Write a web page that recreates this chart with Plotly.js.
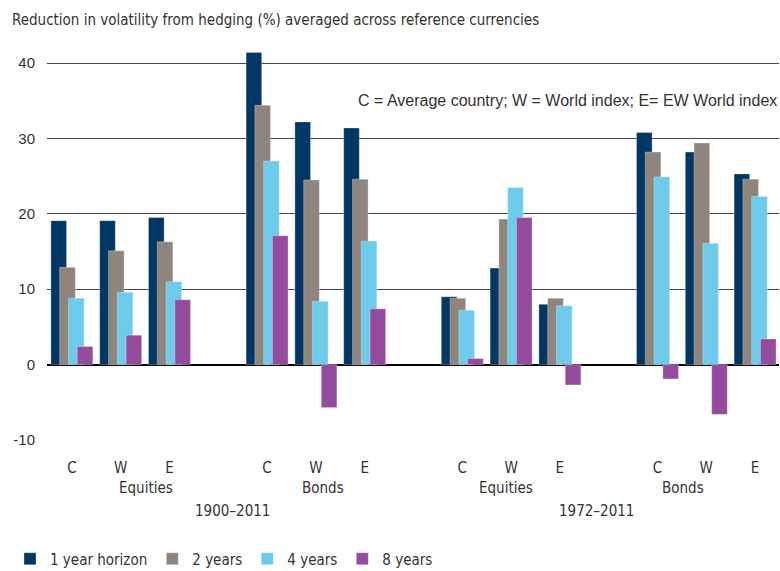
<!DOCTYPE html>
<html>
<head>
<meta charset="utf-8">
<script src="https://cdn.plot.ly/plotly-3.0.1.min.js"></script>
<style>html,body{margin:0;padding:0;background:#fff;}#chart{width:780px;height:571px;}</style>
</head>
<body>
<div id="chart"></div>
<script>
// Data
var categories = ['C','W','E','C','W','E','C','W','E','C','W','E'];
var assetClasses = ['Equities','Bonds','Equities','Bonds'];
var periods = ['1900–2011','1972–2011'];
var seriesNames = ['1 year horizon','2 years','4 years','8 years'];
var h1 = [19.1,19.1,19.5, 41.4,32.2,31.4, 9.0,12.8,8.0, 30.8,28.2,25.3];
var h2 = [12.9,15.1,16.3, 34.4,24.5,24.6, 8.8,19.3,8.8, 28.2,29.4,24.6];
var h4 = [8.8,9.6,11.0, 27.0,8.4,16.4, 7.2,23.5,7.8, 24.9,16.1,22.3];
var h8 = [2.4,3.9,8.6, 17.1,-5.7,7.4, 0.8,19.5,-2.7, -1.9,-6.6,3.4];
var yTicks = [-10,0,10,20,30,40];
var yTickText = ['-10','0','10','20','30','40'];

var colors = ['#003764','#8f857d','#6dcbeb','#944b9d'];
var series = [h1,h2,h4,h8];

// x positions: 3 groups per block, one empty slot between blocks
var xpos = categories.map(function(c,i){ return Math.floor(i/3)*4 + (i%3); });

var barW = 0.32, step = 0.18, start = -0.43;
var traces = series.map(function(vals,k){
  return {
    type:'bar', x:xpos, y:vals, name:seriesNames[k],
    width:barW, offset:start + k*step,
    marker:{color:colors[k], line:{color:'rgba(255,255,255,0.5)', width:0.6}},
    hoverinfo:'skip'
  };
});

var narrow = '"Liberation Sans Narrow", "DejaVu Sans Condensed", Arial, sans-serif';
var regular = 'Arial, "Liberation Sans", sans-serif';

var annotations = [];
// asset class labels
var assetX = [1.52, 5.14, 8.89, 12.52];
assetClasses.forEach(function(a,i){
  annotations.push({text:a, x:assetX[i], xref:'x', y:-0.1225, yref:'paper', showarrow:false,
    xanchor:'center', yanchor:'middle', font:{family:narrow, size:15, color:'#333'}});
});
var periodX = [3.29, 10.75];
periods.forEach(function(p,i){
  annotations.push({text:p, x:periodX[i], xref:'x', y:-0.181, yref:'paper', showarrow:false,
    xanchor:'center', yanchor:'middle', font:{family:narrow, size:15, color:'#333'}});
});
annotations.push({text:'C = Average country; W = World index; E= EW World index', x:1, xref:'paper',
  y:(440-101)/391.8, yref:'paper', showarrow:false, xanchor:'right', yanchor:'middle',
  font:{family:regular, size:16, color:'#333'}});

var layout = {
  width:780, height:571,
  margin:{l:47, r:1, t:48, b:131},
  paper_bgcolor:'#fff', plot_bgcolor:'#fff',
  barmode:'overlay',
  title:{text:'Reduction in volatility from hedging (%) averaged across reference currencies',
    x:12/780, xref:'container', xanchor:'left', y:1-20/571, yref:'container', yanchor:'middle',
    font:{family:narrow, size:15, color:'#333'}},
  xaxis:{range:[-0.51,14.49], tickvals:xpos, ticktext:categories, showgrid:false, zeroline:false,
    showline:false, ticks:'outside', ticklen:14, tickcolor:'rgba(0,0,0,0)',
    tickfont:{family:narrow, size:15, color:'#333'}, fixedrange:true},
  yaxis:{range:[-10,42], tickvals:yTicks, ticktext:yTickText, showgrid:true, gridcolor:'#444', gridwidth:1,
    zeroline:true, zerolinecolor:'#000', zerolinewidth:2, showline:false, ticks:'outside',
    ticklen:8, tickcolor:'rgba(0,0,0,0)', tickfont:{family:regular, size:15, color:'#333'}, fixedrange:true},
  showlegend:true,
  legend:{orientation:'h', x:10/780, xref:'container', xanchor:'left', y:1-559/571, yref:'container', yanchor:'middle',
    font:{family:narrow, size:15, color:'#333'}, bgcolor:'rgba(0,0,0,0)', itemclick:false},
  annotations:annotations
};

Plotly.newPlot('chart', traces, layout, {displayModeBar:false, staticPlot:true});
</script>
</body>
</html>
